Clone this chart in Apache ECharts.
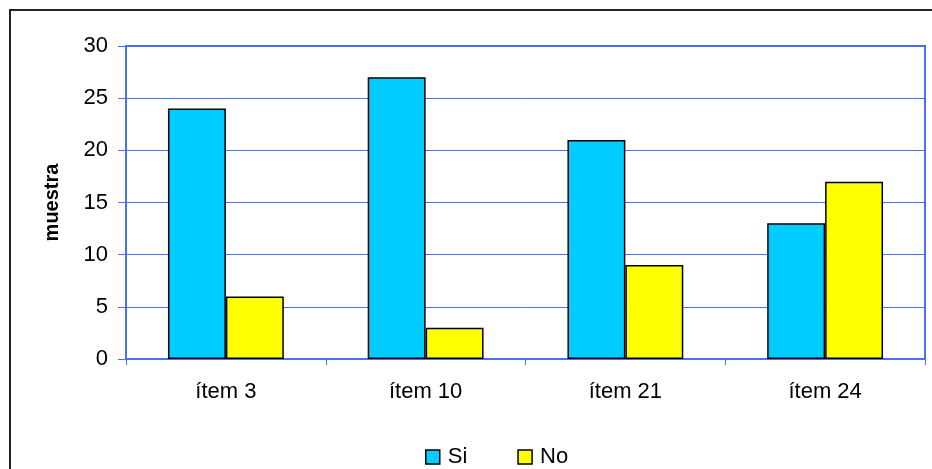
<!DOCTYPE html>
<html>
<head>
<meta charset="utf-8">
<script src="https://cdn.jsdelivr.net/npm/echarts@6/dist/echarts.min.js"></script>
<style>
  html, body { margin: 0; padding: 0; background: #fff; overflow: hidden; }
  #frame { position: absolute; left: 9px; top: 9px; width: 1000px; height: 600px; border-left: 2px solid #222; border-top: 2px solid #222; }
  #chart { position: absolute; left: 0; top: 0; width: 932px; height: 469px; }
</style>
</head>
<body>
<div id="frame"></div>
<div id="chart"></div>
<script>
// data
var categories = ['ítem 3', 'ítem 10', 'ítem 21', 'ítem 24'];
var siValues = [24, 27, 21, 13];
var noValues = [6, 3, 9, 17];
var seriesNames = ['Si', 'No'];

var blue = '#4d6ff5';
var font = '"Liberation Sans", Arial, sans-serif';

var chart = echarts.init(document.getElementById('chart'));
chart.setOption({
  animation: false,
  textStyle: { fontFamily: font },
  grid: { left: 126, top: 46, right: 7, bottom: 110, show: true, borderColor: blue, borderWidth: 2 },
  legend: {
    data: seriesNames,
    left: 420,
    top: 441,
    icon: 'rect',
    itemWidth: 14,
    itemHeight: 14,
    itemGap: 50,
    textStyle: { fontSize: 22, color: '#000', fontFamily: font, padding: [0, 0, 0, 3] },
    itemStyle: { borderColor: '#000', borderWidth: 1.5 }
  },
  xAxis: {
    type: 'category',
    data: categories,
    axisLine: { lineStyle: { color: blue, width: 2 } },
    axisTick: { show: true, length: 6, lineStyle: { color: blue } },
    axisLabel: { fontSize: 22, color: '#000', margin: 22, fontFamily: font },
    splitLine: { show: false }
  },
  yAxis: {
    type: 'value',
    min: 0,
    max: 30,
    interval: 5,
    name: 'muestra',
    nameLocation: 'middle',
    nameGap: 64,
    nameTextStyle: { fontSize: 20, fontWeight: 'bold', color: '#000', fontFamily: font },
    axisLine: { show: true, lineStyle: { color: blue, width: 2 } },
    axisTick: { show: true, length: 8, lineStyle: { color: blue } },
    axisLabel: { fontSize: 22, color: '#000', margin: 18, fontFamily: font },
    splitLine: { show: true, lineStyle: { color: blue, width: 1 } }
  },
  series: [
    {
      name: seriesNames[0],
      type: 'bar',
      data: siValues,
      barGap: '0%',
      barCategoryGap: '42%',
      itemStyle: { color: '#00ccff', borderColor: '#000', borderWidth: 1.5 }
    },
    {
      name: seriesNames[1],
      type: 'bar',
      data: noValues,
      itemStyle: { color: '#ffff00', borderColor: '#000', borderWidth: 1.5 }
    }
  ]
});
</script>
</body>
</html>
